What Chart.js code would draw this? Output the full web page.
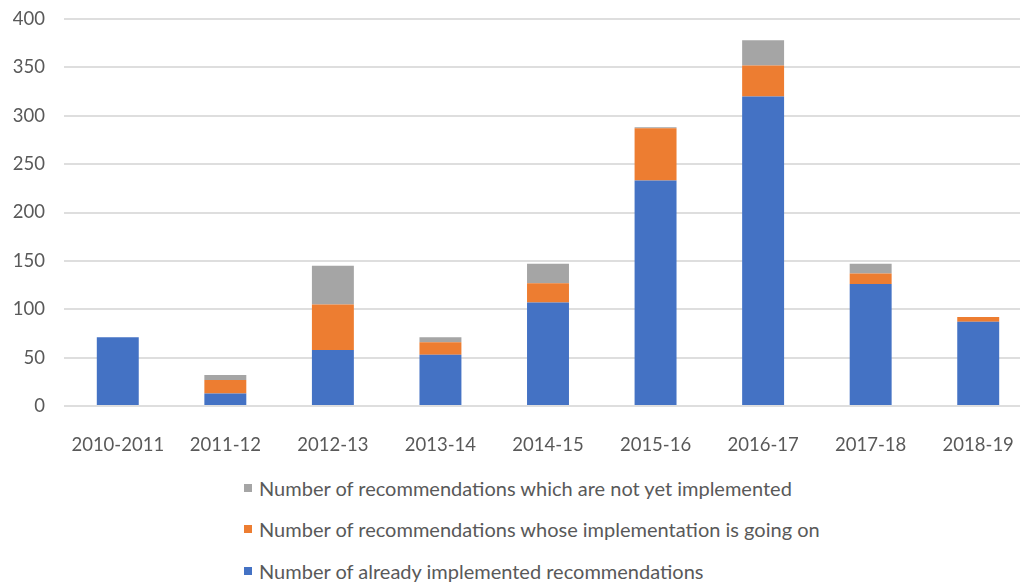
<!DOCTYPE html>
<html>
<head>
<meta charset="utf-8">
<script src="https://cdn.jsdelivr.net/npm/chart.js@4/dist/chart.umd.min.js"></script>
<style>
  html, body { margin: 0; padding: 0; background: #fff; overflow: hidden; }
  body { width: 1020px; height: 586px; position: relative; }
  #wrap { position: absolute; left: 0; top: 0; width: 1032px; height: 460px; }
  #legend { position: absolute; left: 244px; top: 0; font-family: Lato, "Open Sans", sans-serif;
            font-size: 20px; color: #595959; }
  .item { position: absolute; left: 0; white-space: nowrap; display: flex; align-items: center; height: 24px; }
  .box { width: 8px; height: 8px; margin-right: 7px; flex: none; }
</style>
</head>
<body>
<div id="wrap"><canvas id="c" width="1032" height="460"></canvas></div>
<div id="legend"></div>
<script>
const years = ['2010-2011', '2011-12', '2012-13', '2013-14', '2014-15', '2015-16', '2016-17', '2017-18', '2018-19'];
const implemented = [71, 13, 58, 53, 107, 233, 320, 126, 87];
const ongoing     = [0, 14, 47, 13, 20, 54, 32, 11, 5];
const notYet      = [0, 5, 40, 5, 20, 1, 26, 10, 0];
const yTicks = [0, 50, 100, 150, 200, 250, 300, 350, 400];

const seriesNames = [
  'Number of already implemented recommendations',
  'Number of recommendations whose implementation is going on',
  'Number of recommendations which are not yet implemented'
];
const seriesColors = ['#4472C4', '#ED7D31', '#A5A5A5'];
const seriesData = [implemented, ongoing, notYet];

const tickFont = { family: 'Lato, "Open Sans", sans-serif', size: 18.5 };

const chart = new Chart(document.getElementById('c'), {
  type: 'bar',
  data: {
    labels: years,
    datasets: seriesData.map((d, i) => ({
      label: seriesNames[i],
      data: d,
      backgroundColor: seriesColors[i],
      borderWidth: 0,
      barPercentage: 0.39,
      categoryPercentage: 1
    }))
  },
  options: {
    responsive: false,
    animation: false,
    layout: { padding: { top: 19, right: 0, bottom: 0, left: 0 } },
    plugins: { legend: { display: false }, tooltip: { enabled: false } },
    scales: {
      x: {
        stacked: true,
        grid: { display: false },
        border: { display: false },
        ticks: { color: '#595959', font: tickFont, padding: 20, maxRotation: 0, autoSkip: false },
        afterFit: s => { s.height = 54; s.paddingLeft = 0; s.paddingRight = 0; }
      },
      y: {
        stacked: true,
        min: 0,
        max: 400,
        afterBuildTicks: s => { s.ticks = yTicks.map(v => ({ value: v })); },
        grid: { color: '#dedede', lineWidth: 2, drawTicks: false },
        border: { display: false },
        ticks: { color: '#595959', font: tickFont, padding: 19 },
        afterFit: s => { s.width = 64; s.paddingTop = 0; s.paddingBottom = 0; }
      }
    }
  }
});

// Legend listed top-down in reverse stacking order
const legend = document.getElementById('legend');
const rowsY = [488, 529, 571];
[2, 1, 0].forEach((idx, row) => {
  const item = document.createElement('div');
  item.className = 'item';
  item.style.top = (rowsY[row] - 12) + 'px';
  const box = document.createElement('span');
  box.className = 'box';
  box.style.background = seriesColors[idx];
  const txt = document.createElement('span');
  txt.textContent = seriesNames[idx];
  item.appendChild(box);
  item.appendChild(txt);
  legend.appendChild(item);
});
</script>
</body>
</html>
